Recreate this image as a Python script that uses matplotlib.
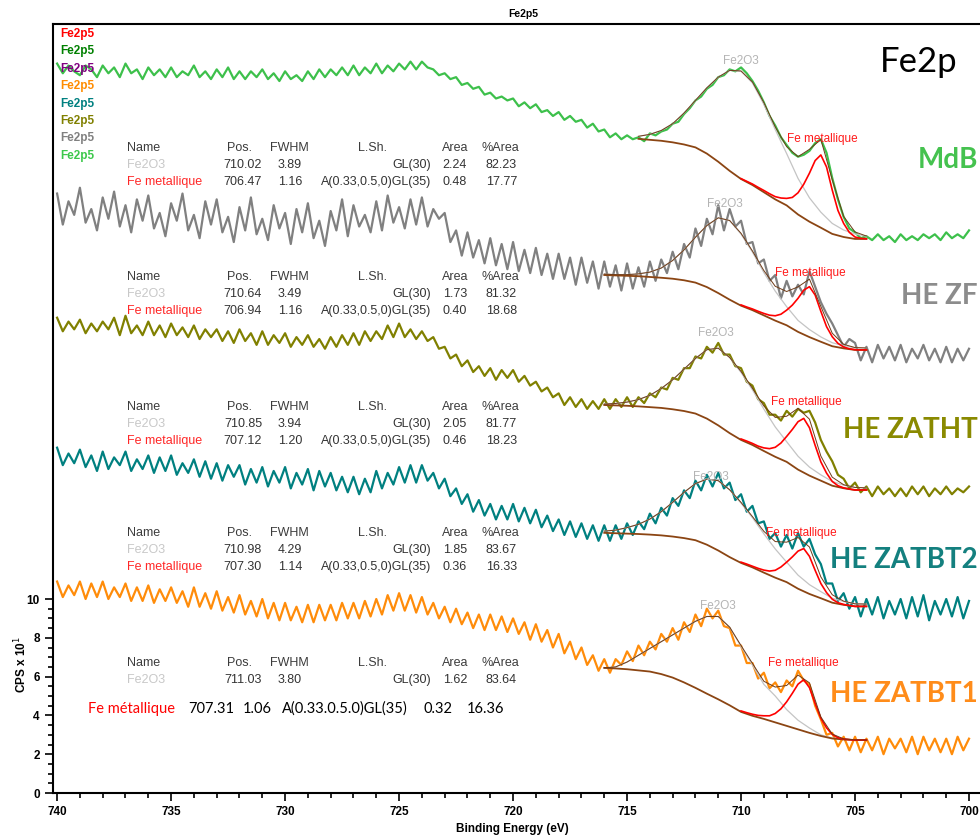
import matplotlib
matplotlib.use("Agg")
import matplotlib.pyplot as plt
from matplotlib import font_manager
from matplotlib.ticker import FixedLocator
import numpy as np

# binding energy channels (eV)
energy = np.linspace(740, 700, 161)
fit_energy = np.linspace(716, 704.5, 24)
metal_energy = np.linspace(710, 704.5, 23)

# raw spectra, CPS x 10^1 (stacked as in the original), 0.25 eV steps from 740 eV
mdb_cps = [37.6, 37.1, 37.5, 37.2, 37.0, 37.5, 37.3, 36.9, 37.5, 37.1, 37.4, 36.9, 37.6, 37.1, 37.3, 36.8,
           37.4, 37.0, 37.3, 36.9, 37.4, 36.9, 37.2, 37.0, 37.5, 36.9, 37.2, 36.8, 37.3, 36.9, 37.4, 36.8,
           37.2, 36.8, 37.2, 36.9, 37.3, 36.8, 37.1, 36.7, 37.2, 36.8, 37.0, 36.7, 37.2, 36.8, 37.3, 36.9,
           37.3, 37.0, 37.4, 37.0, 37.5, 37.0, 37.4, 37.1, 37.6, 37.1, 37.5, 37.2, 37.6, 37.3, 37.7, 37.3,
           37.7, 37.4, 37.3, 37.0, 37.1, 36.8, 36.9, 36.5, 36.6, 36.3, 36.4, 36.0, 36.1, 35.8, 35.9, 35.7,
           35.8, 35.4, 35.6, 35.3, 35.5, 35.1, 35.2, 34.9, 35.1, 34.7, 34.9, 34.6, 34.7, 34.3, 34.5, 34.1,
           34.2, 33.8, 34.0, 33.7, 33.9, 33.7, 33.8, 33.6, 34.0, 33.9, 34.1, 34.2, 34.5, 34.6, 35.0, 35.3,
           35.7, 35.9, 36.3, 36.5, 36.9, 37.0, 37.3, 37.2, 37.4, 37.1, 36.7, 36.2, 35.6, 34.9, 34.4, 33.8,
           33.4, 33.0, 32.8, 32.9, 33.1, 33.5, 33.7, 33.0, 31.7, 30.6, 29.7, 29.1, 28.9, 28.6, 28.7, 28.5,
           28.8, 28.5, 28.7, 28.4, 28.8, 28.5, 28.7, 28.5, 28.8, 28.6, 28.8, 28.5, 28.9, 28.6, 28.8, 28.6,
           29.0]
zf_cps = [30.9, 29.3, 30.5, 29.8, 31.2, 29.4, 30.1, 29.0, 30.7, 29.6, 31.0, 29.2, 30.3, 28.9, 30.6, 29.5,
          30.8, 29.1, 29.9, 28.7, 30.4, 29.5, 30.9, 29.0, 29.8, 28.6, 30.5, 29.3, 30.6, 28.9, 29.7, 28.4,
          30.2, 29.0, 30.7, 28.8, 29.6, 28.5, 30.3, 29.1, 29.9, 28.3, 30.1, 28.9, 30.4, 28.6, 29.5, 28.2,
          30.0, 29.0, 30.6, 28.7, 30.3, 29.2, 29.8, 28.9, 30.5, 29.0, 30.8, 29.4, 30.2, 29.1, 30.6, 29.3,
          30.7, 29.2, 30.1, 29.6, 29.9, 28.4, 29.0, 27.7, 28.9, 27.6, 28.5, 27.3, 28.6, 27.2, 28.3, 27.0,
          28.4, 26.9, 28.0, 26.8, 28.1, 26.7, 27.8, 26.5, 27.8, 26.5, 27.6, 26.2, 27.6, 26.3, 27.4, 26.0,
          27.4, 26.1, 27.2, 25.9, 27.3, 26.0, 27.1, 26.1, 27.4, 26.4, 27.5, 26.8, 27.9, 27.0, 28.3, 27.6,
          29.1, 28.2, 29.6, 28.8, 30.3, 29.0, 30.1, 29.2, 29.5, 28.3, 28.4, 27.3, 27.5, 26.4, 26.7, 25.5,
          26.4, 25.6, 26.2, 25.7, 26.9, 26.1, 25.3, 24.7, 24.2, 23.6, 23.0, 23.4, 23.2, 22.3, 23.0, 22.2,
          23.1, 22.4, 23.0, 22.3, 23.1, 22.2, 22.9, 22.4, 23.1, 22.3, 22.9, 22.2, 23.0, 22.2, 22.9, 22.3,
          22.9]
zatht_cps = [24.5, 23.8, 24.3, 23.9, 24.4, 23.7, 24.2, 23.8, 24.3, 23.9, 24.5, 23.6, 24.6, 23.7, 24.1, 23.6,
             24.3, 23.6, 24.1, 23.5, 24.2, 23.6, 24.0, 23.5, 24.1, 23.4, 23.9, 23.5, 23.9, 23.3, 23.8, 23.2,
             23.9, 23.3, 23.7, 23.1, 23.8, 23.1, 23.6, 23.2, 23.7, 23.0, 23.5, 23.1, 23.6, 23.0, 23.4, 22.9,
             23.5, 23.0, 23.6, 23.1, 23.7, 23.1, 23.8, 23.3, 23.8, 23.4, 24.1, 23.5, 24.2, 23.5, 23.9, 23.4,
             23.8, 23.3, 23.5, 22.9, 23.0, 22.4, 22.6, 22.0, 22.3, 21.7, 22.0, 21.5, 21.9, 21.3, 21.8, 21.4,
             21.8, 21.2, 21.5, 21.0, 21.2, 20.7, 20.9, 20.4, 20.6, 20.0, 20.4, 19.9, 20.3, 19.8, 20.2, 19.8,
             20.3, 19.8, 20.3, 19.9, 20.4, 19.9, 20.4, 20.1, 20.6, 20.4, 20.9, 20.8, 21.4, 21.3, 21.9, 21.9,
             22.5, 22.4, 23.0, 22.7, 23.2, 22.6, 22.6, 22.0, 21.9, 21.2, 21.0, 20.3, 20.1, 19.5, 19.5, 19.2,
             19.7, 19.4, 19.8, 19.6, 19.7, 19.1, 18.2, 17.6, 17.1, 16.4, 16.2, 15.7, 16.0, 15.5, 15.8, 15.3,
             15.8, 15.4, 15.7, 15.3, 15.7, 15.3, 15.8, 15.4, 15.8, 15.3, 15.7, 15.4, 15.8, 15.4, 15.7, 15.5,
             15.8]
zatbt2_cps = [17.8, 16.9, 17.5, 17.0, 17.7, 16.8, 17.4, 16.6, 17.6, 16.7, 17.3, 16.9, 17.6, 16.6, 17.2, 16.7,
              17.4, 16.5, 17.3, 16.6, 17.4, 16.4, 17.0, 16.5, 17.2, 16.3, 17.1, 16.2, 17.0, 16.1, 16.9, 16.3,
              16.9, 15.9, 16.7, 16.0, 16.8, 15.8, 16.6, 16.0, 16.8, 15.7, 16.5, 15.9, 16.7, 15.6, 16.6, 15.8,
              16.5, 15.6, 16.3, 15.5, 16.3, 15.4, 16.2, 15.5, 16.6, 15.7, 16.5, 15.9, 16.8, 16.0, 16.9, 16.0,
              16.9, 16.1, 16.5, 15.7, 16.2, 15.3, 15.7, 14.9, 15.4, 14.5, 15.1, 14.3, 14.9, 14.1, 14.8, 14.1,
              14.9, 14.0, 14.7, 13.9, 14.6, 13.7, 14.3, 13.5, 14.1, 13.3, 14.0, 13.2, 13.9, 13.1, 13.8, 13.0,
              13.8, 13.0, 13.8, 13.1, 13.9, 13.3, 14.0, 13.6, 14.4, 13.9, 14.7, 14.3, 15.2, 14.8, 15.6, 15.2,
              16.1, 15.6, 16.4, 15.8, 16.5, 15.7, 16.0, 15.1, 15.4, 14.5, 14.8, 13.9, 14.0, 13.1, 13.4, 12.7,
              13.3, 12.6, 13.4, 12.7, 13.1, 12.3, 11.8, 10.8, 10.8, 9.9, 10.3, 9.5, 10.1, 9.1, 10.0, 9.2,
              10.1, 9.0, 9.9, 9.2, 10.0, 9.0, 10.1, 9.1, 10.2, 8.9, 9.9, 9.2, 10.0, 9.1, 10.1, 9.0,
              9.9]
zatbt1_cps = [10.9, 10.1, 10.7, 10.2, 10.9, 10.0, 10.8, 10.1, 10.9, 10.0, 10.6, 10.1, 10.8, 9.9, 10.6, 9.9,
              10.7, 9.8, 10.5, 9.9, 10.6, 9.8, 10.4, 9.6, 10.6, 9.6, 10.3, 9.5, 10.4, 9.4, 10.1, 9.3,
              10.2, 9.2, 9.9, 9.1, 10.0, 9.0, 9.8, 8.9, 9.8, 8.9, 9.6, 8.8, 9.7, 8.8, 9.7, 8.9,
              9.7, 8.9, 9.8, 9.0, 9.8, 9.0, 9.9, 9.1, 10.0, 9.2, 10.2, 9.4, 10.3, 9.4, 10.2, 9.3,
              10.1, 9.2, 9.8, 9.0, 9.6, 8.8, 9.5, 8.7, 9.3, 8.5, 9.2, 8.4, 9.2, 8.4, 9.1, 8.3,
              9.0, 8.2, 8.8, 7.9, 8.7, 7.8, 8.4, 7.5, 8.2, 7.2, 7.8, 6.9, 7.5, 6.6, 7.1, 6.3,
              6.9, 6.2, 6.9, 6.6, 7.3, 6.8, 7.6, 7.1, 7.8, 7.4, 8.2, 7.8, 8.5, 7.9, 8.8, 8.3,
              9.2, 8.6, 9.5, 9.0, 9.4, 8.6, 8.5, 7.6, 7.6, 6.7, 6.7, 5.9, 6.2, 5.4, 5.7, 5.2,
              5.8, 5.5, 6.3, 5.8, 5.6, 4.5, 3.8, 3.0, 3.1, 2.4, 2.9, 2.2, 2.9, 2.1, 2.8, 2.2,
              2.9, 2.0, 2.8, 2.3, 2.8, 2.1, 2.9, 2.0, 2.9, 2.2, 2.8, 2.1, 2.8, 2.0, 2.9, 2.2,
              2.8]

# fit: Shirley background, Fe2O3 component and Fe metal component (each drawn on the background)
mdb_bg = [33.80, 33.77, 33.75, 33.72, 33.67, 33.62, 33.54, 33.43, 33.28, 32.96, 32.54, 32.07,
          31.65, 31.34, 30.97, 30.60, 30.29, 29.82, 29.45, 29.14, 28.82, 28.66, 28.56, 28.56]
mdb_fe2o3 = [33.85, 33.82, 33.82, 33.85, 33.95, 34.15, 34.50, 35.05, 35.70, 36.35, 36.90, 37.25,
             37.20, 36.60, 35.50, 34.20, 32.96, 31.68, 30.68, 29.94, 29.36, 29.02, 28.82, 28.70]
mdb_fe = [31.67, 31.53, 31.39, 31.22, 31.06, 30.89, 30.74, 30.67, 30.65, 30.70, 30.94, 31.38,
          31.95, 32.60, 32.89, 32.27, 31.08, 30.03, 29.36, 28.90, 28.66, 28.59, 28.57]

zf_bg = [26.70, 26.68, 26.66, 26.64, 26.60, 26.56, 26.51, 26.43, 26.31, 26.08, 25.77, 25.43,
         25.12, 24.89, 24.62, 24.35, 24.11, 23.77, 23.50, 23.26, 23.03, 22.92, 22.84, 22.84]
zf_fe2o3 = [26.75, 26.72, 26.72, 26.76, 26.85, 27.06, 27.45, 28.00, 28.65, 29.25, 29.65, 29.51,
            28.81, 27.88, 26.83, 25.87, 25.07, 24.36, 23.89, 23.51, 23.21, 23.06, 22.95, 22.94]
zf_fe = [25.16, 25.05, 24.95, 24.83, 24.72, 24.63, 24.60, 24.68, 24.89, 25.15, 25.50, 25.92,
         26.10, 25.67, 24.83, 24.04, 23.52, 23.18, 22.99, 22.90, 22.85, 22.84, 22.84]

zatht_bg = [20.00, 19.98, 19.96, 19.93, 19.89, 19.85, 19.78, 19.69, 19.56, 19.30, 18.95, 18.55,
            18.20, 17.94, 17.63, 17.33, 17.07, 16.67, 16.36, 16.10, 15.84, 15.71, 15.62, 15.62]
zatht_fe2o3 = [20.05, 20.08, 20.15, 20.28, 20.50, 20.85, 21.30, 21.85, 22.40, 22.85, 22.93, 22.45,
               21.68, 20.78, 19.79, 18.87, 18.11, 17.36, 16.80, 16.40, 16.06, 15.87, 15.75, 15.73]
zatht_fe = [18.25, 18.14, 18.02, 17.88, 17.79, 17.75, 17.82, 18.04, 18.38, 18.74, 19.14, 19.31,
            18.83, 17.92, 17.07, 16.49, 16.06, 15.84, 15.73, 15.67, 15.62, 15.62, 15.62]

zatbt2_bg = [13.41, 13.39, 13.37, 13.35, 13.32, 13.28, 13.22, 13.14, 13.03, 12.80, 12.50, 12.16,
             11.86, 11.63, 11.36, 11.10, 10.87, 10.53, 10.26, 10.04, 9.81, 9.70, 9.62, 9.62]
zatbt2_fe2o3 = [13.50, 13.55, 13.68, 13.85, 14.12, 14.50, 14.98, 15.50, 15.95, 16.18, 16.10, 15.63,
                14.94, 14.19, 13.36, 12.58, 11.90, 11.23, 10.74, 10.38, 10.04, 9.87, 9.75, 9.74]
zatbt2_fe = [11.90, 11.80, 11.69, 11.58, 11.49, 11.44, 11.48, 11.65, 11.90, 12.17, 12.47, 12.60,
             12.20, 11.48, 10.80, 10.33, 9.99, 9.81, 9.72, 9.67, 9.62, 9.62, 9.62]

zatbt1_bg = [6.45, 6.42, 6.38, 6.32, 6.26, 6.13, 5.95, 5.70, 5.42, 5.12, 4.83, 4.52,
             4.18, 3.98, 3.82, 3.64, 3.46, 3.28, 3.10, 2.94, 2.81, 2.76, 2.73, 2.73]
zatbt1_fe2o3 = [6.45, 6.50, 6.75, 7.10, 7.45, 7.80, 8.15, 8.50, 8.85, 9.10, 9.10, 8.55,
                7.55, 6.60, 5.60, 5.00, 4.30, 3.75, 3.35, 3.00, 2.83, 2.77, 2.74, 2.73]
zatbt1_fe = [4.23, 4.14, 4.06, 4.00, 3.98, 3.98, 4.10, 4.34, 4.70, 5.14, 5.61, 5.84,
             5.43, 4.62, 3.86, 3.36, 3.02, 2.85, 2.78, 2.75, 2.73, 2.73, 2.73]

sample_names = ["MdB", "HE ZF", "HE ZATHT", "HE ZATBT2", "HE ZATBT1"]
sample_colors = ["#3dc04b", "#808080", "#808000", "#008080", "#ff8c0a"]
name_colors = ["#45c24f", "#8c8c8c", "#8a8a00", "#14807f", "#ff8c1a"]
legend_colors = ["#ff0000", "#008000", "#800080", "#ff8c00", "#008080", "#808000", "#808080", "#3cc84b"]

# fit tables (CasaXPS)
mdb_table = [("Fe2O3", "710.02", "3.89", "GL(30)", "2.24", "82.23"),
             ("Fe metallique", "706.47", "1.16", "A(0.33,0.5,0)GL(35)", "0.48", "17.77")]
zf_table = [("Fe2O3", "710.64", "3.49", "GL(30)", "1.73", "81.32"),
            ("Fe metallique", "706.94", "1.16", "A(0.33,0.5,0)GL(35)", "0.40", "18.68")]
zatht_table = [("Fe2O3", "710.85", "3.94", "GL(30)", "2.05", "81.77"),
               ("Fe metallique", "707.12", "1.20", "A(0.33,0.5,0)GL(35)", "0.46", "18.23")]
zatbt2_table = [("Fe2O3", "710.98", "4.29", "GL(30)", "1.85", "83.67"),
                ("Fe metallique", "707.30", "1.14", "A(0.33,0.5,0)GL(35)", "0.36", "16.33")]
zatbt1_table = [("Fe2O3", "711.03", "3.80", "GL(30)", "1.62", "83.64")]
zatbt1_metal_row = ["Fe métallique", "707.31", "1.06", "A(0.33.0.5.0)GL(35)", "0.32", "16.36"]


def pick_font(*names):
    for n in names:
        try:
            font_manager.findfont(font_manager.FontProperties(family=n), fallback_to_default=False)
            return n
        except ValueError:
            pass
    return "DejaVu Sans"


ARIAL = pick_font("Liberation Sans", "Arimo")
CALIBRI = pick_font("Lato", "Open Sans", "Noto Sans")
plt.rcParams["font.family"] = ARIAL

W, H = 980, 840
fig = plt.figure(figsize=(W / 100, H / 100), dpi=100)
ax = fig.add_axes([53 / W, 47 / H, (990 - 53) / W, (793 - 24) / H])


def ftext(x, y, s, **kw):
    # place text in figure pixels (origin top-left)
    return fig.text(x / W, 1 - y / H, s, **kw)


spectra = [
    (mdb_cps, mdb_bg, mdb_fe2o3, mdb_fe),
    (zf_cps, zf_bg, zf_fe2o3, zf_fe),
    (zatht_cps, zatht_bg, zatht_fe2o3, zatht_fe),
    (zatbt2_cps, zatbt2_bg, zatbt2_fe2o3, zatbt2_fe),
    (zatbt1_cps, zatbt1_bg, zatbt1_fe2o3, zatbt1_fe),
]
fit_start = [3, 0, 0, 0, 0]

for (cps, bg, fe2o3, fe), col, s in zip(spectra, sample_colors, fit_start):
    bg = np.array(bg)
    envelope = np.array(fe2o3)
    envelope[12:] += np.array(fe)[::2] - bg[12:]
    ax.plot(energy, cps, color=col, lw=1.6, zorder=2)
    ax.plot(fit_energy[s:], fe2o3[s:], color="#c4c4c4", lw=0.9, zorder=3)
    ax.plot(fit_energy[s:], bg[s:], color="#8b4513", lw=1.3, zorder=4)
    ax.plot(metal_energy, fe, color="#ff0000", lw=1.2, zorder=5)
    ax.plot(fit_energy[s:], envelope[s:], color="#6e3b17", lw=0.7, zorder=6)

ax.set_xlim(740.18, 699.08)
ax.set_ylim(0, 39.64)
ax.xaxis.set_major_locator(FixedLocator(list(range(700, 741, 5))))
ax.xaxis.set_minor_locator(FixedLocator(list(range(700, 741))))
ax.yaxis.set_major_locator(FixedLocator([0, 2, 4, 6, 8, 10]))
ax.yaxis.set_minor_locator(FixedLocator(list(np.arange(0, 10.01, 0.5))))
ax.tick_params(which="both", direction="out", width=1.2, labelsize=8.5)
ax.tick_params(which="major", length=6)
ax.tick_params(which="minor", length=3.5)
for lab in ax.get_xticklabels() + ax.get_yticklabels():
    lab.set_fontweight("bold")
for sp in ax.spines.values():
    sp.set_linewidth(1.5)

ftext(523, 14, "Fe2p5", ha="center", va="center", fontsize=7.5, weight="bold")
ftext(512, 829, "Binding Energy (eV)", ha="center", va="center", fontsize=8.5, weight="bold")
ftext(21, 665, "CPS x 10$^{1}$", ha="center", va="center", rotation=90, fontsize=8.5, weight="bold")

for i, c in enumerate(legend_colors):
    ftext(60, 34 + i * 17.4, "Fe2p5", color=c, fontsize=8.5, weight="bold", va="center")

# fit tables
header_y = [148, 277, 407, 533, 663]
tables = [mdb_table, zf_table, zatht_table, zatbt2_table, zatbt1_table]
for y0, rows in zip(header_y, tables):
    hc = "#3c3c3c"
    ftext(127, y0, "Name", ha="left", va="center", fontsize=9, color=hc)
    ftext(239, y0, "Pos.", ha="center", va="center", fontsize=9, color=hc)
    ftext(289, y0, "FWHM", ha="center", va="center", fontsize=9, color=hc)
    ftext(372, y0, "L.Sh.", ha="center", va="center", fontsize=9, color=hc)
    ftext(455, y0, "Area", ha="center", va="center", fontsize=9, color=hc)
    ftext(500, y0, "%Area", ha="center", va="center", fontsize=9, color=hc)
    for k, (name, pos, fwhm, lsh, area, pct) in enumerate(rows):
        y = y0 + 17 * (k + 1)
        ncol = "#c8c8c8" if name == "Fe2O3" else "#ff2828"
        ftext(127, y, name, ha="left", va="center", fontsize=9, color=ncol)
        ftext(262, y, pos, ha="right", va="center", fontsize=9, color="#333333")
        ftext(302, y, fwhm, ha="right", va="center", fontsize=9, color="#333333")
        ftext(431, y, lsh, ha="right", va="center", fontsize=9, color="#333333")
        ftext(467, y, area, ha="right", va="center", fontsize=9, color="#333333")
        ftext(517, y, pct, ha="right", va="center", fontsize=9, color="#333333")

row_x = [88, 188, 243, 282, 423, 467]
for k, (x, s) in enumerate(zip(row_x, zatbt1_metal_row)):
    ftext(x, 709, s, ha="left", va="center", fontsize=10.5, family=CALIBRI,
          color="#ff0000" if k == 0 else "black")

# peak labels
fe2o3_lab = [(741, 61), (725, 204), (716, 333), (711, 477), (718, 606)]
metal_lab = [(822, 139), (810, 273), (806, 402), (801, 533), (803, 663)]
for (x1, y1), (x2, y2) in zip(fe2o3_lab, metal_lab):
    ftext(x1, y1, "Fe2O3", ha="center", va="center", fontsize=8.5, color="#b4b4b4")
    ftext(x2, y2, "Fe metallique", ha="center", va="center", fontsize=8.5, color="#ff1a1a")

# sample names, flush against the right edge
name_y = [160, 296, 430, 560, 694]
for y, s, c in zip(name_y, sample_names, name_colors):
    ftext(978, y, s, ha="right", va="center", fontsize=20, weight="bold", family=CALIBRI, color=c)

ftext(880, 62, "Fe2p", ha="left", va="center", fontsize=25, family=CALIBRI, color="black")

fig.savefig("out.png", dpi=100)
